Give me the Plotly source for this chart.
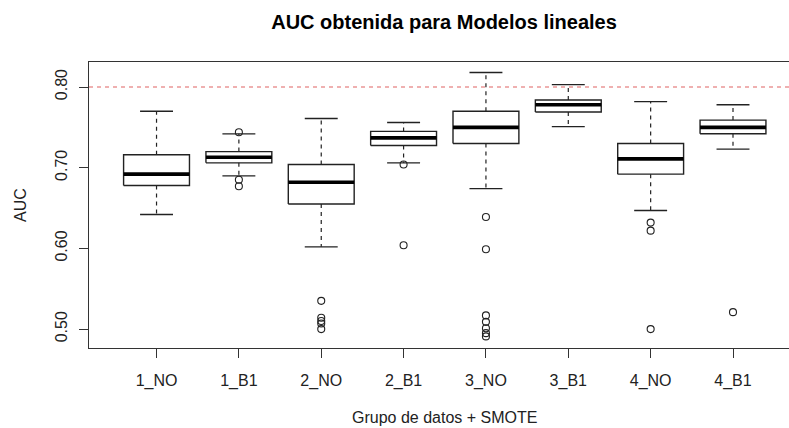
import plotly.graph_objects as go

labels = ["1_NO", "1_B1", "2_NO", "2_B1", "3_NO", "3_B1", "4_NO", "4_B1"]
lower_whisker = [0.642, 0.690, 0.602, 0.706, 0.674, 0.751, 0.647, 0.723]
q1 = [0.678, 0.706, 0.655, 0.7275, 0.730, 0.769, 0.692, 0.742]
median = [0.692, 0.713, 0.682, 0.737, 0.750, 0.778, 0.711, 0.750]
q3 = [0.716, 0.720, 0.704, 0.745, 0.770, 0.784, 0.730, 0.759]
upper_whisker = [0.770, 0.742, 0.761, 0.756, 0.818, 0.803, 0.782, 0.778]
outliers = [
    [],
    [0.744, 0.685, 0.677],
    [0.535, 0.514, 0.510, 0.507, 0.500],
    [0.704, 0.604],
    [0.639, 0.599, 0.517, 0.509, 0.501, 0.495, 0.491],
    [],
    [0.632, 0.622, 0.500],
    [0.521],
]
threshold = 0.80
y_ticks = [0.50, 0.60, 0.70, 0.80]
y_tick_labels = ["0.50", "0.60", "0.70", "0.80"]

FONT = "Liberation Sans, Arial, sans-serif"
INK = "#222222"
HALF = 0.4      # half box width
CAP = 0.2       # half whisker-cap width

pos = list(range(1, len(labels) + 1))

box_x, box_y = [], []
med_x, med_y = [], []
wh_x, wh_y = [], []
cap_x, cap_y = [], []
out_x, out_y = [], []
for i, p in enumerate(pos):
    box_x += [p - HALF, p + HALF, p + HALF, p - HALF, p - HALF, None]
    box_y += [q1[i], q1[i], q3[i], q3[i], q1[i], None]
    med_x += [p - HALF, p + HALF, None]
    med_y += [median[i], median[i], None]
    wh_x += [p, p, None, p, p, None]
    wh_y += [q3[i], upper_whisker[i], None, q1[i], lower_whisker[i], None]
    cap_x += [p - CAP, p + CAP, None, p - CAP, p + CAP, None]
    cap_y += [upper_whisker[i], upper_whisker[i], None, lower_whisker[i], lower_whisker[i], None]
    for v in outliers[i]:
        out_x.append(p)
        out_y.append(v)

fig = go.Figure()
fig.add_trace(go.Scatter(x=wh_x, y=wh_y, mode="lines",
                         line=dict(color=INK, width=1.2, dash="4px,4px"),
                         hoverinfo="skip", showlegend=False))
fig.add_trace(go.Scatter(x=cap_x, y=cap_y, mode="lines",
                         line=dict(color=INK, width=1.3),
                         hoverinfo="skip", showlegend=False))
fig.add_trace(go.Scatter(x=box_x, y=box_y, mode="lines",
                         line=dict(color=INK, width=1.4),
                         hoverinfo="skip", showlegend=False))
fig.add_trace(go.Scatter(x=med_x, y=med_y, mode="lines",
                         line=dict(color="#000000", width=3.6),
                         hoverinfo="skip", showlegend=False))
fig.add_trace(go.Scatter(x=out_x, y=out_y, mode="markers",
                         marker=dict(symbol="circle-open", size=7,
                                     color=INK, line=dict(width=1.1)),
                         hoverinfo="skip", showlegend=False))
fig.add_trace(go.Scatter(x=[0.18, 8.68], y=[threshold, threshold], mode="lines",
                         line=dict(color="#e06262", width=1.2, dash="4px,4px"),
                         hoverinfo="skip", showlegend=False))

fig.update_layout(
    width=789, height=428,
    margin=dict(l=89, r=0, t=62, b=80),
    paper_bgcolor="white", plot_bgcolor="white",
    font=dict(family=FONT, size=16, color=INK),
    title=dict(text="<b>AUC obtenida para Modelos lineales</b>",
               x=444 / 789, xref="container", xanchor="center",
               y=1 - 21.7 / 428, yref="container", yanchor="middle",
               font=dict(size=20, color="#000000", family=FONT)),
    xaxis=dict(range=[0.18, 8.68], tickmode="array", tickvals=pos, ticktext=labels,
               showgrid=False, zeroline=False, showline=True, mirror=True,
               linecolor="#333333", linewidth=1.2,
               ticks="outside", ticklen=9, tickcolor="#333333", tickwidth=1.2,
               ticklabelstandoff=9,
               tickfont=dict(size=16, family=FONT, color=INK)),
    yaxis=dict(range=[0.4766, 0.831], tickmode="array", tickvals=y_ticks,
               ticktext=y_tick_labels, tickangle=-90,
               showgrid=False, zeroline=False, showline=True, mirror=False,
               linecolor="#333333", linewidth=1.2,
               ticks="outside", ticklen=9, tickcolor="#333333", tickwidth=1.2,
               ticklabelstandoff=6,
               tickfont=dict(size=16, family=FONT, color=INK)),
    annotations=[
        dict(text="Grupo de datos + SMOTE", xref="paper", yref="paper",
             x=(444 - 89) / 700, y=(348.3 - 418) / 286.6,
             xanchor="center", yanchor="middle", showarrow=False,
             font=dict(size=16, family=FONT, color=INK)),
        dict(text="AUC", xref="paper", yref="paper",
             x=(20 - 89) / 700, y=0.5, textangle=-90,
             xanchor="center", yanchor="middle", showarrow=False,
             font=dict(size=16, family=FONT, color=INK)),
    ],
)

fig.write_html("out.html")
